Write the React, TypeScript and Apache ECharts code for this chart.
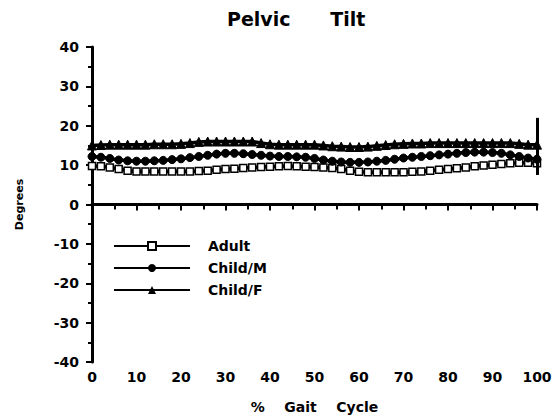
import React, { useEffect, useRef } from "react";
import * as echarts from "echarts";

const gaitPct = [0,2,4,6,8,10,12,14,16,18,20,22,24,26,28,30,32,34,36,38,40,42,44,46,48,50,52,54,56,58,60,62,64,66,68,70,72,74,76,78,80,82,84,86,88,90,92,94,96,98,100];

const adult = [9.8,9.7,9.4,9.0,8.6,8.4,8.4,8.4,8.4,8.4,8.4,8.4,8.5,8.6,8.8,9.0,9.1,9.3,9.4,9.5,9.6,9.7,9.8,9.7,9.6,9.5,9.4,9.3,9.0,8.6,8.3,8.2,8.2,8.2,8.2,8.2,8.3,8.4,8.6,8.8,9.0,9.2,9.4,9.7,9.9,10.1,10.3,10.5,10.6,10.6,10.5];

const childM = [12.2,12.0,11.7,11.3,11.1,11.0,11.0,11.1,11.2,11.4,11.6,11.9,12.2,12.5,12.8,13.0,13.0,12.9,12.7,12.5,12.3,12.2,12.2,12.1,12.0,11.7,11.3,11.0,10.8,10.7,10.7,10.8,11.0,11.2,11.5,11.8,12.0,12.2,12.4,12.6,12.8,13.0,13.2,13.3,13.3,13.2,13.0,12.6,12.2,11.8,11.5];

const childF = [15.0,15.1,15.2,15.2,15.2,15.2,15.2,15.3,15.3,15.3,15.4,15.6,15.9,16.0,16.0,16.0,16.0,16.0,16.0,15.6,15.3,15.2,15.2,15.2,15.2,15.2,15.0,14.8,14.7,14.6,14.6,14.7,14.9,15.1,15.3,15.4,15.5,15.5,15.6,15.6,15.6,15.6,15.6,15.6,15.6,15.6,15.6,15.6,15.4,15.2,15.2];

const seriesNames = ["Adult", "Child/M", "Child/F"];
const yTicks = { min: -40, max: 40, interval: 10 };
const xTicks = { min: 0, max: 100, interval: 10 };

const FONT = "'DejaVu Sans', 'Liberation Sans', Arial, sans-serif";

export default function App() {
  const ref = useRef<HTMLDivElement>(null);
  useEffect(() => {
    if (!ref.current) return;
    const chart = echarts.init(ref.current, undefined, { renderer: "svg" });
    const pair = (arr: number[]) => gaitPct.map((x, i) => [x, arr[i]]);
    const common = {
      type: "line",
      lineStyle: { color: "#000", width: 3.5 },
      itemStyle: { color: "#000", borderColor: "#000" },
      symbolSize: 7,
    };
    chart.setOption({
      animation: false,
      backgroundColor: "#fff",
      title: {
        text: "Pelvic      Tilt",
        left: 222,
        top: 4,
        textStyle: { fontFamily: FONT, fontWeight: "bold", fontSize: 19, color: "#000" },
      },
      legend: {
        orient: "vertical",
        left: 108,
        top: 234,
        itemWidth: 76,
        itemHeight: 10,
        itemGap: 8,
        data: seriesNames,
        textStyle: {
          fontFamily: FONT,
          fontWeight: "bold",
          fontSize: 14,
          color: "#000",
          padding: [0, 0, 0, 13],
        },
      },
      grid: { left: 92, right: 19, top: 47, bottom: 56, containLabel: false },
      xAxis: {
        type: "value",
        min: xTicks.min,
        max: xTicks.max,
        interval: xTicks.interval,
        name: "%    Gait    Cycle",
        nameLocation: "middle",
        nameGap: 38,
        nameTextStyle: { fontFamily: FONT, fontWeight: "bold", fontSize: 14, color: "#000" },
        axisLine: { lineStyle: { color: "#000", width: 3 } },
        axisTick: { show: true, length: 6, lineStyle: { color: "#000", width: 2 } },
        minorTick: { show: true, splitNumber: 2, length: 5, lineStyle: { color: "#000", width: 2 } },
        splitLine: { show: false },
        axisLabel: { fontFamily: FONT, fontWeight: "bold", fontSize: 14, color: "#000", margin: 8 },
      },
      yAxis: {
        type: "value",
        min: yTicks.min,
        max: yTicks.max,
        interval: yTicks.interval,
        name: "Degrees",
        nameLocation: "middle",
        nameGap: 67,
        nameTextStyle: { fontFamily: FONT, fontWeight: "bold", fontSize: 11, color: "#000" },
        axisLine: { lineStyle: { color: "#000", width: 3 } },
        axisTick: { show: true, length: 6, lineStyle: { color: "#000", width: 2 } },
        minorTick: { show: true, splitNumber: 2, length: 4, lineStyle: { color: "#000", width: 2 } },
        splitLine: { show: false },
        axisLabel: { fontFamily: FONT, fontWeight: "bold", fontSize: 14, color: "#000", margin: 13 },
      },
      series: [
        {
          ...common,
          name: seriesNames[0],
          data: pair(adult),
          symbol: "rect",
          symbolSize: 7,
          itemStyle: { color: "#fff", borderColor: "#000", borderWidth: 1.5 },
        },
        { ...common, name: seriesNames[1], data: pair(childM), symbol: "circle", symbolSize: 8 },
        {
          ...common,
          name: seriesNames[2],
          data: pair(childF),
          symbol: "triangle",
          symbolSize: 9,
          markLine: {
            silent: true,
            symbol: "none",
            label: { show: false },
            lineStyle: { color: "#000", width: 3, type: "solid" },
            data: [[{ coord: [100, 22] }, { coord: [100, 7.5] }]],
          },
        },
      ],
    });
    return () => chart.dispose();
  }, []);
  return <div ref={ref} style={{ width: 556, height: 419, position: "absolute", left: 0, top: 0 }} />;
}
